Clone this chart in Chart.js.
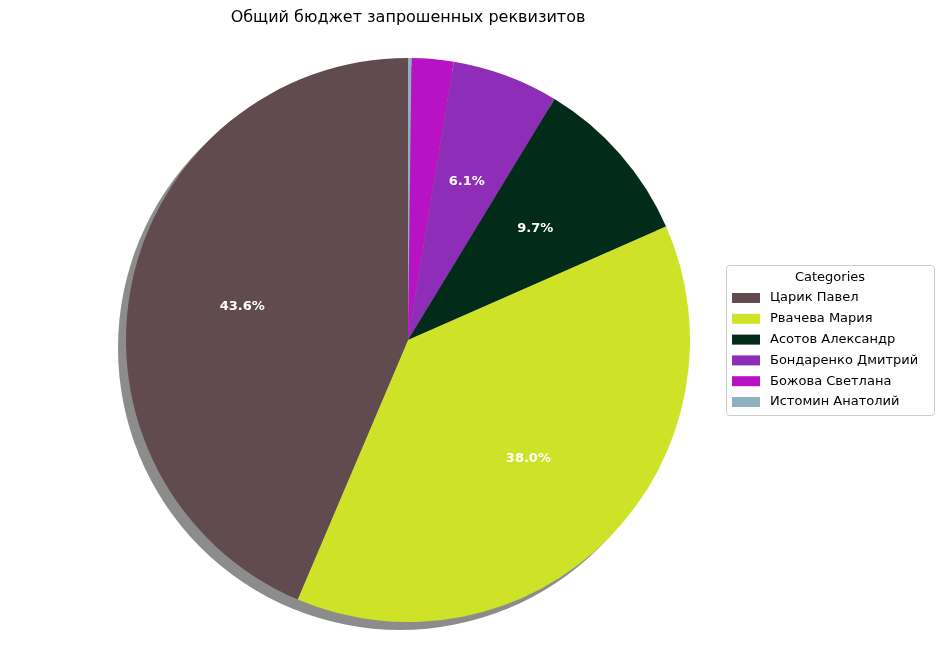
<!DOCTYPE html>
<html>
<head>
<meta charset="utf-8">
<script src="https://cdn.jsdelivr.net/npm/chart.js@4"></script>
<style>
  body { margin: 0; background: #fff; }
  #wrap { width: 944px; height: 658px; }
</style>
</head>
<body>
<div id="wrap"><canvas id="chart"></canvas></div>
<script>
const title = "Общий бюджет запрошенных реквизитов";
const categories = ["Царик Павел", "Рвачева Мария", "Асотов Александр", "Бондаренко Дмитрий", "Божова Светлана", "Истомин Анатолий"];
const shares = [43.6, 38.0, 9.7, 6.1, 2.4, 0.2];
const colors = ["#614b4f", "#cee228", "#022b1a", "#8e2db8", "#b713c5", "#8fb0bf"];

// matplotlib draws counterclockwise from the top, Chart.js clockwise: reverse for drawing
const drawLabels = categories.slice().reverse();
const drawData = shares.slice().reverse();
const drawColors = colors.slice().reverse();

const extras = {
  id: "extras",
  beforeDatasetsDraw(chart) {
    const arc = chart.getDatasetMeta(0).data[0];
    const ctx = chart.ctx;
    ctx.save();
    ctx.fillStyle = "rgba(0,0,0,0.45)";
    ctx.beginPath();
    ctx.arc(arc.x - 8, arc.y + 8, arc.outerRadius, 0, Math.PI * 2);
    ctx.fill();
    ctx.restore();
  },
  afterDraw(chart) {
    const ctx = chart.ctx;
    ctx.save();
    // title
    ctx.fillStyle = "#000";
    ctx.font = "16px 'DejaVu Sans'";
    ctx.textAlign = "center";
    ctx.textBaseline = "middle";
    ctx.fillText(title, 408, 18);

    // percentage labels
    ctx.font = "bold 13px 'DejaVu Sans'";
    ctx.fillStyle = "#fff";
    chart.getDatasetMeta(0).data.forEach((a, i) => {
      if (drawData[i] < 5) return;
      const mid = (a.startAngle + a.endAngle) / 2;
      const r = a.outerRadius * 0.6;
      ctx.fillText(drawData[i].toFixed(1) + "%", a.x + Math.cos(mid) * r, a.y + Math.sin(mid) * r);
    });

    // legend
    const lx = 726, ly = 265, lw = 208, lh = 150;
    ctx.fillStyle = "rgba(255,255,255,0.8)";
    ctx.strokeStyle = "#cccccc";
    ctx.lineWidth = 1;
    ctx.beginPath();
    ctx.roundRect(lx + 0.5, ly + 0.5, lw, lh, 3);
    ctx.fill();
    ctx.stroke();
    ctx.fillStyle = "#000";
    ctx.font = "13px 'DejaVu Sans'";
    ctx.textAlign = "center";
    ctx.fillText("Categories", lx + lw / 2, ly + 13);
    ctx.textAlign = "left";
    categories.forEach((c, i) => {
      const y = ly + 33 + i * 20.8;
      ctx.fillStyle = colors[i];
      ctx.fillRect(lx + 6, y - 5, 28, 10);
      ctx.fillStyle = "#000";
      ctx.fillText(c, lx + 44, y);
    });
    ctx.restore();
  }
};

new Chart(document.getElementById("chart"), {
  type: "pie",
  data: {
    labels: drawLabels,
    datasets: [{
      data: drawData,
      backgroundColor: drawColors,
      borderWidth: 0
    }]
  },
  options: {
    responsive: true,
    maintainAspectRatio: false,
    animation: false,
    layout: { padding: { top: 58, bottom: 36, left: 126, right: 254 } },
    plugins: {
      legend: { display: false },
      tooltip: { enabled: false }
    }
  },
  plugins: [extras]
});
</script>
</body>
</html>
